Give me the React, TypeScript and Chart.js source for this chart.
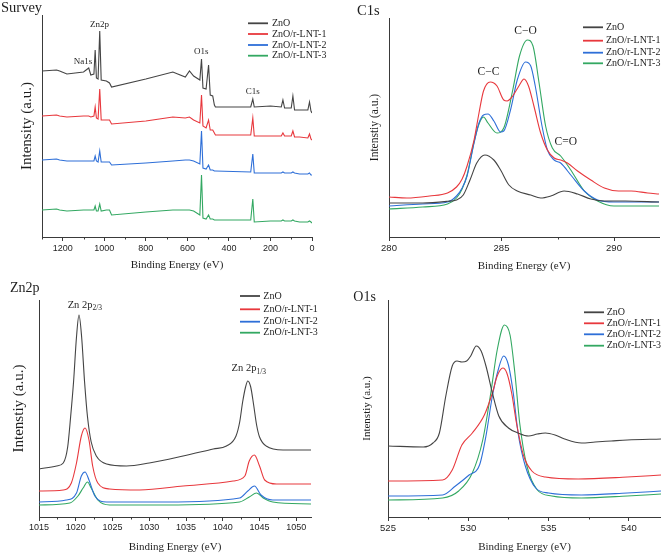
import { useEffect, useRef } from 'react';
import { Chart, registerables } from 'chart.js';

Chart.register(...registerables);

// ---------- data ----------
const seriesLabels = ['ZnO', 'ZnO/r-LNT-1', 'ZnO/r-LNT-2', 'ZnO/r-LNT-3'];

// Survey (shared binding energies, eV)
const surveyEnergy = [1300, 1230, 1215, 1180, 1100, 1075, 1065, 1050, 1044, 1038, 1030, 1022, 1015, 990, 975, 965, 800, 670, 610, 590, 570, 540, 532, 525, 510, 498, 490, 478, 470, 465, 295, 285, 278, 200, 148, 140, 132, 100, 92, 84, 60, 20, 12, 5, 0];
const surveyZnO = [166, 167, 166, 163, 165, 169, 162, 163, 187, 159, 158, 206, 157, 156, 154, 150, 158, 165, 160, 166, 161, 157, 178, 149, 148, 172, 142, 141, 132, 130, 130, 138, 130, 131, 130, 137, 129, 129, 141, 127, 127, 127, 135, 126, 124];
const surveyLNT1 = [121, 122, 121, 120, 121, 121, 120, 121, 130, 119, 118, 148, 117, 117, 117, 113, 116, 120, 119, 120, 117, 114, 142, 111, 109, 117, 107, 107, 104, 102, 102, 119, 101, 101, 101, 104, 101, 101, 106, 100, 100, 99, 103, 98, 97];
const surveyLNT2 = [77, 78, 77, 76, 76, 76, 76, 76, 81, 76, 75, 86, 75, 75, 75, 72, 74, 76, 77, 77, 76, 73, 106, 69, 68, 72, 67, 67, 66, 66, 65, 83, 64, 64, 64, 65, 64, 64, 65, 64, 63, 63, 64, 62, 62];
const surveyLNT3 = [27, 28, 27, 26, 27, 27, 27, 27, 31, 26, 26, 33, 26, 27, 27, 22, 25, 27, 27, 27, 26, 22, 62, 19, 18, 22, 18, 18, 17, 17, 17, 38, 15, 16, 16, 17, 16, 16, 17, 16, 15, 15, 16, 15, 14];
const surveyTicks = [1200, 1000, 800, 600, 400, 200, 0];
const surveyMinorTicks = [1300, 1100, 900, 700, 500, 300, 100];

// C1s
const c1sZnOE = [280, 281.5, 282.6, 283.0, 283.3, 283.6, 283.9, 284.26, 284.66, 284.96, 285.33, 285.7, 286.3, 286.74, 287.19, 287.78, 288.38, 288.97, 289.57, 290.5, 292];
const c1sZnOI = [34, 34, 35.7, 37, 42, 57, 74, 82, 77, 67, 52, 46, 42, 39, 41, 46, 43, 38, 36, 36, 35];
const c1sLNT1E = [280, 280.8, 281.8, 282.6, 283.0, 283.25, 283.47, 283.78, 284.0, 284.2, 284.5, 284.8, 285.1, 285.25, 285.5, 285.8, 286.0, 286.2, 286.44, 286.74, 287.04, 287.34, 287.63, 287.93, 288.38, 288.97, 289.57, 290.2, 290.76, 291.5, 292];
const c1sLNT1I = [40, 39, 41, 44, 50, 58, 71, 97, 124, 146, 155, 151, 137, 136, 141, 152, 158, 151, 131, 104, 87, 79, 77, 74, 66, 57, 49, 46, 46, 44, 43];
const c1sLNT2E = [280, 281.5, 282.6, 283.0, 283.25, 283.47, 283.78, 284.0, 284.2, 284.4, 284.66, 284.96, 285.1, 285.4, 285.7, 286.07, 286.3, 286.5, 286.8, 287.04, 287.34, 287.63, 288.08, 288.68, 289.27, 290.0, 291, 292];
const c1sLNT2I = [31, 33, 35, 41, 49, 61, 94, 114, 122, 123, 116, 105, 106, 127, 157, 175, 171, 151, 111, 87, 77, 74, 62, 46, 37, 35, 35, 35];
const c1sLNT3E = [280, 281.5, 282.6, 283.0, 283.25, 283.47, 283.78, 284.0, 284.2, 284.4, 284.8, 285.1, 285.5, 285.8, 286.15, 286.4, 286.67, 286.96, 287.26, 287.63, 288.08, 288.68, 289.27, 290.0, 291, 292];
const c1sLNT3I = [28, 30, 33, 39, 48, 62, 95, 113, 120, 114, 104, 109, 147, 181, 197, 191, 154, 111, 89, 81, 67, 46, 36, 31, 31, 31];
const c1sTicks = [280, 285, 290];
const c1sMinorTicks = [282.5, 287.5];

// Zn2p
const zn2pZnOE = [1015, 1017.4, 1018.3, 1018.9, 1019.3, 1019.7, 1020.1, 1020.44, 1020.8, 1021.2, 1021.6, 1022.1, 1022.8, 1024.2, 1026.9, 1030.0, 1034.6, 1038.7, 1040.5, 1041.8, 1042.3, 1042.7, 1043.1, 1043.4, 1043.8, 1044.2, 1044.6, 1045.0, 1045.9, 1048.2, 1052];
const zn2pZnOI = [48, 51, 54, 70, 100, 135, 180, 202, 180, 135, 100, 75, 61, 53, 51, 54, 61, 68, 71, 81, 95, 115, 130, 136, 130, 112, 92, 80, 71, 67, 67];
const zn2pLNT1E = [1015, 1018.3, 1019.4, 1020.1, 1020.76, 1021.26, 1021.8, 1022.3, 1023.0, 1024.6, 1028.7, 1034.6, 1041.4, 1043.0, 1043.6, 1044.3, 1045.0, 1045.7, 1047.3, 1052];
const zn2pLNT1I = [26, 27, 34, 54, 81, 89, 77, 51, 34, 28, 27, 31, 36, 41, 56, 62, 51, 37, 33, 33];
const zn2pLNT2E = [1015, 1018.7, 1020.1, 1020.76, 1021.26, 1021.8, 1022.6, 1024.2, 1032.3, 1042.3, 1043.4, 1044.3, 1045.2, 1046.8, 1052];
const zn2pLNT2I = [15, 17, 24, 41, 45, 37, 21, 15, 15, 19, 26, 31, 22, 17, 17];
const zn2pLNT3E = [1015, 1019.2, 1020.3, 1021.0, 1021.6, 1022.1, 1023.0, 1024.6, 1032.3, 1042.3, 1043.6, 1044.6, 1045.5, 1046.8, 1052];
const zn2pLNT3I = [12, 14, 21, 29, 35, 29, 17, 12, 12, 15, 20, 24, 19, 15, 13];
const zn2pTicks = [1015, 1020, 1025, 1030, 1035, 1040, 1045, 1050];
const zn2pMinorTicks = [1017.5, 1022.5, 1027.5, 1032.5, 1037.5, 1042.5, 1047.5];

// O1s
const o1sZnOE = [525, 527.2, 527.8, 528.2, 528.6, 529.0, 529.3, 529.6, 529.9, 530.15, 530.5, 530.8, 531.1, 531.5, 531.9, 532.5, 533.1, 533.75, 534.3, 534.8, 535.4, 536.0, 537.05, 537.9, 538.9, 539.9, 542];
const o1sZnOI = [71, 70, 74, 84, 121, 151, 156, 155, 156, 161, 171, 166, 151, 124, 101, 89, 84, 81, 83, 84, 82, 78, 74, 75, 76, 77, 78];
const o1sLNT1E = [525, 528.4, 529.0, 529.6, 530.25, 531.0, 531.5, 531.8, 532.15, 532.4, 532.7, 533.0, 533.45, 533.96, 534.8, 536.85, 539.9, 542];
const o1sLNT1I = [36, 37, 47, 72, 84, 102, 124, 141, 149, 144, 124, 94, 61, 46, 40, 38, 40, 42];
const o1sLNT2E = [525, 528.4, 529.2, 530.05, 530.7, 531.1, 531.5, 531.86, 532.2, 532.5, 532.8, 533.1, 533.55, 534.2, 535.0, 537.05, 539.9, 542];
const o1sLNT2I = [21, 22, 31, 42, 52, 81, 121, 147, 161, 152, 124, 84, 51, 29, 24, 22, 24, 26];
const o1sLNT3E = [525, 528.4, 529.4, 530.25, 530.9, 531.4, 531.8, 532.25, 532.6, 532.9, 533.2, 533.65, 534.3, 535.2, 537.05, 539.9, 542];
const o1sLNT3I = [17, 19, 26, 44, 77, 124, 167, 192, 182, 144, 94, 51, 27, 21, 19, 21, 23];
const o1sTicks = [525, 530, 535, 540];
const o1sMinorTicks = [527.5, 532.5, 537.5];

// ---------- styles ----------
const SERIF = '"Liberation Serif", "Times New Roman", serif';
const SANS = '"Liberation Sans", Arial, sans-serif';
const AXIS = '#3a3a3a';
const TEXT = '#1e1e1e';
const seriesColors = ['#444444', '#e8383d', '#2e6fd8', '#33a862'];

type Ann = { text: string; sub?: string; x: number; y: number; align: 'center' | 'left'; size: number; subSize?: number };

interface Panel {
  title: string; titleX: number; titleY: number; titleSize: number;
  box: { left: number; top: number; width: number; height: number };
  area: { left: number; top: number; right: number; bottom: number };
  xMin: number; xMax: number; reverse: boolean; yMax: number;
  ticks: number[]; minor: number[];
  energies: number[][]; intensities: number[][];
  tickSize: number; tickLabelY: number; xTitleY: number;
  yTitle: string; yTitleSize: number; yTitleX: number;
  legend: { x0: number; x1: number; textX: number; rows: number[] };
  annotations: Ann[];
  smooth: boolean;
}

const panels: Panel[] = [
  {
    title: 'Survey', titleX: 1, titleY: 12, titleSize: 14.5,
    box: { left: 0, top: 0, width: 330, height: 278 },
    area: { left: 42, top: 15, right: 312, bottom: 237 },
    xMin: 0, xMax: 1300, reverse: true, yMax: 222,
    ticks: surveyTicks, minor: surveyMinorTicks,
    energies: [surveyEnergy, surveyEnergy, surveyEnergy, surveyEnergy],
    intensities: [surveyZnO, surveyLNT1, surveyLNT2, surveyLNT3],
    tickSize: 9, tickLabelY: 248.5, xTitleY: 264.7,
    yTitle: 'Intensity (a.u.)', yTitleSize: 15, yTitleX: 26.7,
    legend: { x0: 248, x1: 268, textX: 272, rows: [23.3, 34, 45, 55.7] },
    annotations: [
      { text: 'Zn2p', x: 1023.6, y: 212, align: 'center', size: 9 },
      { text: 'Na1s', x: 1103, y: 175, align: 'center', size: 9 },
      { text: 'O1s', x: 533, y: 185, align: 'center', size: 9 },
      { text: 'C1s', x: 285.6, y: 145, align: 'center', size: 9 },
    ],
    smooth: false,
  },
  {
    title: 'C1s', titleX: 27, titleY: 15, titleSize: 14.5,
    box: { left: 330, top: 0, width: 331, height: 278 },
    area: { left: 59, top: 18, right: 329, bottom: 237 },
    xMin: 280, xMax: 292, reverse: false, yMax: 219,
    ticks: c1sTicks, minor: c1sMinorTicks,
    energies: [c1sZnOE, c1sLNT1E, c1sLNT2E, c1sLNT3E],
    intensities: [c1sZnOI, c1sLNT1I, c1sLNT2I, c1sLNT3I],
    tickSize: 9.5, tickLabelY: 248, xTitleY: 265.8,
    yTitle: 'Intenstiy (a.u.)', yTitleSize: 11.5, yTitleX: 45,
    legend: { x0: 253, x1: 273, textX: 276, rows: [27.3, 40.7, 52.7, 63.3] },
    annotations: [
      { text: 'C\u2212C', x: 284.42, y: 165, align: 'center', size: 11.5 },
      { text: 'C\u2212O', x: 286.07, y: 206, align: 'center', size: 11.5 },
      { text: 'C=O', x: 287.86, y: 95, align: 'center', size: 11.5 },
    ],
    smooth: true,
  },
  {
    title: 'Zn2p', titleX: 10, titleY: 14.3, titleSize: 14,
    box: { left: 0, top: 278, width: 330, height: 277 },
    area: { left: 39, top: 22, right: 311, bottom: 239 },
    xMin: 1015, xMax: 1052, reverse: false, yMax: 217,
    ticks: zn2pTicks, minor: zn2pMinorTicks,
    energies: [zn2pZnOE, zn2pLNT1E, zn2pLNT2E, zn2pLNT3E],
    intensities: [zn2pZnOI, zn2pLNT1I, zn2pLNT2I, zn2pLNT3I],
    tickSize: 9, tickLabelY: 250, xTitleY: 268.7,
    yTitle: 'Intenstiy (a.u.)', yTitleSize: 15, yTitleX: 19,
    legend: { x0: 240, x1: 260, textX: 263.3, rows: [18, 31.3, 43.7, 54.7] },
    annotations: [
      { text: 'Zn 2p', sub: '2/3', x: 1018.9, y: 212, align: 'left', size: 10.5, subSize: 7.5 },
      { text: 'Zn 2p', sub: '1/3', x: 1041.2, y: 148.7, align: 'left', size: 10.5, subSize: 7.5 },
    ],
    smooth: true,
  },
  {
    title: 'O1s', titleX: 23.3, titleY: 22.7, titleSize: 14,
    box: { left: 330, top: 278, width: 331, height: 277 },
    area: { left: 58, top: 22, right: 331, bottom: 239 },
    xMin: 525, xMax: 542, reverse: false, yMax: 217,
    ticks: o1sTicks, minor: o1sMinorTicks,
    energies: [o1sZnOE, o1sLNT1E, o1sLNT2E, o1sLNT3E],
    intensities: [o1sZnOI, o1sLNT1I, o1sLNT2I, o1sLNT3I],
    tickSize: 9.5, tickLabelY: 250.3, xTitleY: 268.7,
    yTitle: 'Intenstiy (a.u.)', yTitleSize: 11, yTitleX: 36.7,
    legend: { x0: 254, x1: 274, textX: 276.7, rows: [34.3, 45.3, 56.3, 67.7] },
    annotations: [],
    smooth: true,
  },
];

function decorPlugin(p: Panel) {
  return {
    id: 'decor',
    afterDraw(chart: any) {
      const ctx: CanvasRenderingContext2D = chart.ctx;
      const xs = chart.scales.x;
      const ys = chart.scales.y;
      const area = chart.chartArea;
      ctx.save();
      // minor ticks
      ctx.strokeStyle = AXIS;
      ctx.lineWidth = 1;
      p.minor.forEach((v) => {
        if (v < p.xMin || v > p.xMax) return;
        const px = Math.round(xs.getPixelForValue(v)) + 0.5;
        ctx.beginPath();
        ctx.moveTo(px, area.bottom);
        ctx.lineTo(px, area.bottom + 2.5);
        ctx.stroke();
      });
      // legend
      p.legend.rows.forEach((y, i) => {
        ctx.strokeStyle = seriesColors[i];
        ctx.lineWidth = 1.8;
        ctx.beginPath();
        ctx.moveTo(p.legend.x0, y);
        ctx.lineTo(p.legend.x1, y);
        ctx.stroke();
        ctx.fillStyle = TEXT;
        ctx.font = `10px ${SERIF}`;
        ctx.textAlign = 'left';
        ctx.textBaseline = 'middle';
        ctx.fillText(seriesLabels[i], p.legend.textX, y);
      });
      // panel title
      ctx.fillStyle = TEXT;
      ctx.font = `${p.titleSize}px ${SERIF}`;
      ctx.textAlign = 'left';
      ctx.textBaseline = 'alphabetic';
      ctx.fillText(p.title, p.titleX, p.titleY);
      // annotations
      p.annotations.forEach((a) => {
        const x = xs.getPixelForValue(a.x);
        const y = ys.getPixelForValue(a.y);
        ctx.font = `${a.size}px ${SERIF}`;
        const w = ctx.measureText(a.text).width;
        let subW = 0;
        if (a.sub) {
          ctx.font = `${a.subSize}px ${SERIF}`;
          subW = ctx.measureText(a.sub).width;
        }
        const left = a.align === 'center' ? x - (w + subW) / 2 : x;
        ctx.font = `${a.size}px ${SERIF}`;
        ctx.textAlign = 'left';
        ctx.textBaseline = 'middle';
        ctx.fillText(a.text, left, y);
        if (a.sub) {
          ctx.font = `${a.subSize}px ${SERIF}`;
          ctx.fillText(a.sub, left + w, y + a.size * 0.32);
        }
      });
      ctx.restore();
    },
  };
}

function buildConfig(p: Panel): any {
  const W = p.box.width;
  const H = p.box.height;
  const tickLen = 4;
  const tickPad = p.tickLabelY - p.area.bottom - tickLen - (p.tickSize * 1.2) / 2;
  const xTitlePad = H - p.xTitleY - (11 * 1.2) / 2;
  const yTitlePad = p.yTitleX - (p.yTitleSize * 1.2) / 2;
  const datasets = p.energies.map((es, i) => ({
    label: seriesLabels[i],
    data: es.map((e, j) => ({ x: e, y: p.intensities[i][j] })),
    borderColor: seriesColors[i],
    backgroundColor: seriesColors[i],
    borderWidth: 1.1,
    pointRadius: 0,
    fill: false,
    tension: 0,
    cubicInterpolationMode: p.smooth ? 'monotone' : 'default',
  }));
  return {
    type: 'line',
    data: { datasets },
    options: {
      animation: false,
      responsive: false,
      maintainAspectRatio: false,
      devicePixelRatio: 1,
      events: [],
      layout: { padding: { left: 0, top: p.area.top, right: W - p.area.right, bottom: 0 } },
      plugins: { legend: { display: false }, tooltip: { enabled: false }, title: { display: false } },
      scales: {
        x: {
          type: 'linear',
          min: p.xMin,
          max: p.xMax,
          reverse: p.reverse,
          afterBuildTicks: (s: any) => {
            s.ticks = p.ticks.map((v) => ({ value: v }));
          },
          afterFit: (s: any) => {
            s.height = H - p.area.bottom;
          },
          grid: { display: true, drawOnChartArea: false, drawTicks: true, tickLength: tickLen, color: AXIS, lineWidth: 1 },
          border: { display: true, color: AXIS, width: 1 },
          ticks: {
            font: { family: SANS, size: p.tickSize },
            color: TEXT,
            padding: tickPad,
            maxRotation: 0,
            minRotation: 0,
            autoSkip: false,
            callback: (v: any) => String(v),
          },
          title: {
            display: true,
            text: 'Binding Energy (eV)',
            font: { family: SERIF, size: 11 },
            color: TEXT,
            padding: { top: 0, bottom: xTitlePad },
          },
        },
        y: {
          type: 'linear',
          min: 0,
          max: p.yMax,
          afterFit: (s: any) => {
            s.width = p.area.left;
          },
          grid: { display: false },
          border: { display: true, color: AXIS, width: 1 },
          ticks: { display: false },
          title: {
            display: true,
            text: p.yTitle,
            font: { family: SERIF, size: p.yTitleSize },
            color: TEXT,
            padding: { top: yTitlePad, bottom: 0 },
          },
        },
      },
    },
    plugins: [decorPlugin(p)],
  };
}

function PanelChart({ p }: { p: Panel }) {
  const ref = useRef<HTMLCanvasElement>(null);
  useEffect(() => {
    if (!ref.current) return;
    const chart = new Chart(ref.current, buildConfig(p));
    return () => chart.destroy();
  }, [p]);
  return (
    <canvas
      ref={ref}
      width={p.box.width}
      height={p.box.height}
      style={{ position: 'absolute', left: p.box.left, top: p.box.top, width: p.box.width, height: p.box.height, display: 'block' }}
    />
  );
}

export default function App() {
  return (
    <div style={{ position: 'absolute', left: 0, top: 0, width: 661, height: 555, background: '#ffffff', overflow: 'hidden' }}>
      {panels.map((p) => (
        <PanelChart key={p.title} p={p} />
      ))}
    </div>
  );
}
